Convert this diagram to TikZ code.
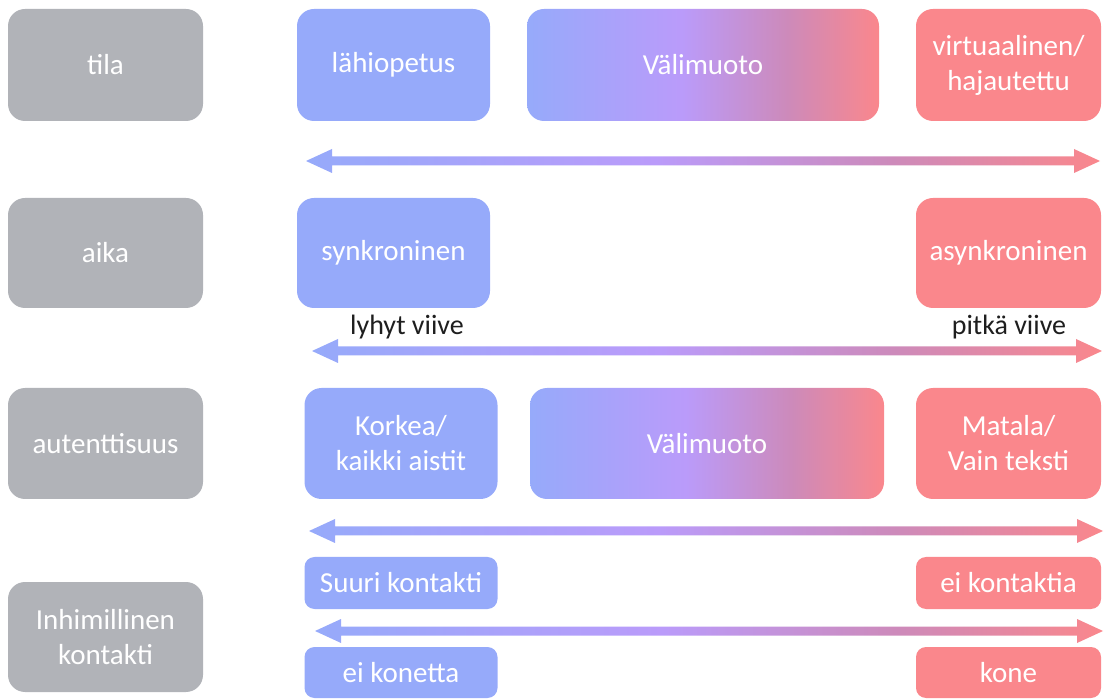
\documentclass[tikz,border=0pt]{standalone}
\usepackage{fontspec}
\setmainfont{Carlito}
\usetikzlibrary{calc}

\definecolor{cgray}{RGB}{177,179,184}
\definecolor{cblue}{RGB}{150,170,250}
\definecolor{cpurp}{RGB}{186,155,250}
\definecolor{cmauve}{RGB}{205,138,186}
\definecolor{cred}{RGB}{250,135,140}
\definecolor{ctext}{RGB}{30,30,30}

% blue -> violet -> mauve -> red, spread over the central 50bp
\pgfdeclarehorizontalshading{spectrum}{100bp}{%
  color(0bp)=(cblue); color(25bp)=(cblue); color(47bp)=(cpurp);
  color(62bp)=(cmauve); color(75bp)=(cred); color(100bp)=(cred)}

% double-headed block arrow between two named points
\newcommand\spanarrow[2]{%
  \shade[shading=spectrum] (#1) -- ($(#1)+(26,-12)$) -- ($(#1)+(26,-4.5)$)
    -- ($(#2)+(-26,-4.5)$) -- ($(#2)+(-26,-12)$) -- (#2)
    -- ($(#2)+(-26,12)$) -- ($(#2)+(-26,4.5)$)
    -- ($(#1)+(26,4.5)$) -- ($(#1)+(26,12)$) -- cycle;}

\begin{document}
\begin{tikzpicture}[x=1pt,y=-1pt,
  every node/.style={font=\fontsize{29}{35}\selectfont, align=center, inner sep=2pt},
  card/.style={rounded corners=17, text=white, minimum width=#1},
  card/.default=193,
  tall/.style={minimum height=112},
  flat/.style={minimum height=52, rounded corners=10},
  graybox/.style={card=195, tall, fill=cgray},
  bluebox/.style={card, fill=cblue},
  redbox/.style={card=185, fill=cred},
  midbox/.style={card=#1, shading=spectrum},
  note/.style={text=ctext, inner sep=0pt, font=\fontsize{28}{34}\selectfont}]

\useasboundingbox (0,0) rectangle (1104,700);

% row: tila
\node[graybox] (tila) at (105.5,65) {tila};
\node[bluebox, tall] (lahi) at (393.5,65) {lähiopetus};
\node[midbox=352, tall] (vali1) at (703,65) {Välimuoto};
\node[redbox, tall] (virt) at (1008.5,65) {virtuaalinen/\\hajautettu};

% row: aika
\node[graybox, minimum height=110] (aika) at (105.5,253) {aika};
\node[bluebox, minimum height=110] (synk) at (393.5,253) {synkroninen};
\node[redbox, minimum height=110] (asynk) at (1008.5,253) {asynkroninen};
\node[note] (lyhyt) at (407,327) {lyhyt viive};
\node[note] (pitka) at (1009,327) {pitkä viive};

% row: autenttisuus
\node[graybox, minimum height=111] (aut) at (105.5,443.5) {autenttisuus};
\node[bluebox=192, minimum height=111] (korkea) at (401,443.5) {Korkea/\\kaikki aistit};
\node[midbox=354, minimum height=111] (vali3) at (707,443.5) {Välimuoto};
\node[redbox, minimum height=111] (matala) at (1008.5,443.5) {Matala/\\Vain teksti};

% row: inhimillinen kontakti
\node[graybox, minimum height=110] (inhim) at (105.5,637) {Inhimillinen\\kontakti};
\node[bluebox=192, flat] (suuri) at (401,583) {Suuri kontakti};
\node[redbox, flat] (eikont) at (1008.5,583) {ei kontaktia};
\node[bluebox=192, flat, minimum height=51] (eikone) at (401,672.5) {ei konetta};
\node[redbox, flat, minimum height=51] (kone) at (1008.5,672.5) {kone};

% scale arrows
\coordinate (a1l) at (306,161);  \coordinate (a1r) at (1100,161);
\coordinate (a2l) at (312,351);  \coordinate (a2r) at (1102,351);
\coordinate (a3l) at (309,531);  \coordinate (a3r) at (1103,531);
\coordinate (a4l) at (315,631);  \coordinate (a4r) at (1103,631);
\spanarrow{a1l}{a1r}
\spanarrow{a2l}{a2r}
\spanarrow{a3l}{a3r}
\spanarrow{a4l}{a4r}
\end{tikzpicture}
\end{document}
